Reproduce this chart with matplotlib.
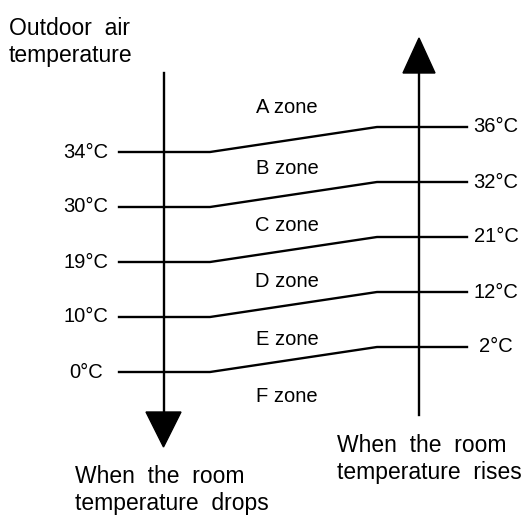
import matplotlib.pyplot as plt
from matplotlib.patches import Polygon

plt.rcParams['font.family'] = ['Liberation Sans', 'DejaVu Sans']

# Data
left_temps = ['34°C', '30°C', '19°C', '10°C', '0°C']
right_temps = ['36°C', '32°C', '21°C', '12°C', '2°C']
zones = ['A zone', 'B zone', 'C zone', 'D zone', 'E zone', 'F zone']
top_label = 'Outdoor  air\ntemperature'
drop_label = 'When  the  room\ntemperature  drops'
rise_label = 'When  the  room\ntemperature  rises'

W, H = 529, 515
fig = plt.figure(figsize=(W / 100, H / 100), dpi=100)
ax = fig.add_axes([0, 0, 1, 1])
ax.set_xlim(0, W)
ax.set_ylim(H, 0)
ax.axis('off')

lw = 1.7
fs = 14.5
fs_big = 16.5

# vertical axes with arrowheads
lx, rx = 163.5, 419
ax.plot([lx, lx], [73, 412], color='black', lw=lw)
ax.add_patch(Polygon([[lx - 17.5, 412], [lx + 17.5, 412], [lx, 447]], closed=True, color='black'))
ax.plot([rx, rx], [73, 415], color='black', lw=lw)
ax.add_patch(Polygon([[rx - 16, 73], [rx + 16, 73], [rx, 38]], closed=True, color='black'))

# boundary lines between zones
for i, (lt, rt) in enumerate(zip(left_temps, right_temps)):
    yl = 152 + 55 * i
    yr = yl - 25
    ax.plot([119, 210, 377, 467], [yl, yl, yr, yr], color='black', lw=lw, solid_joinstyle='miter')
    ax.text(86, yl, lt, fontsize=fs, ha='center', va='center')
    ax.text(496, yr, rt, fontsize=fs, ha='center', va='center')

zone_base = [113, 174, 231, 287, 345, 402]
for z, yb in zip(zones, zone_base):
    ax.text(287, yb, z, fontsize=fs, ha='center', va='baseline')

# multi-line labels: y is the baseline of the last line
ax.text(9, 62, top_label, fontsize=fs_big, ha='left', va='baseline', linespacing=1.22)
ax.text(75, 510, drop_label, fontsize=fs_big, ha='left', va='baseline', linespacing=1.22)
ax.text(337, 479, rise_label, fontsize=fs_big, ha='left', va='baseline', linespacing=1.22)

plt.savefig('out.png', dpi=100)
